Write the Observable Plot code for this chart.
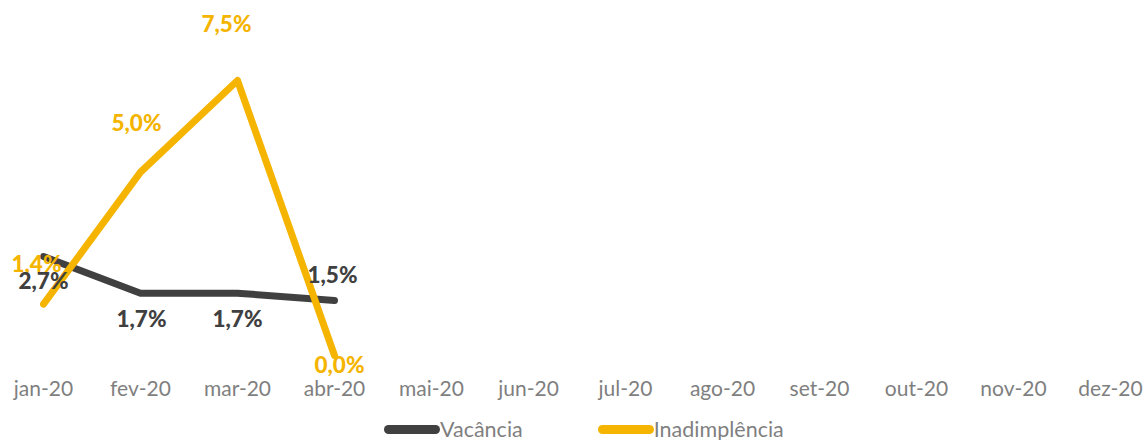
<!DOCTYPE html>
<html>
<head>
<meta charset="utf-8">
<script src="https://cdn.jsdelivr.net/npm/d3@7"></script>
<script src="https://cdn.jsdelivr.net/npm/@observablehq/plot@0.6"></script>
<style>
  html, body { margin: 0; padding: 0; background: #fff; }
  body { width: 1147px; height: 440px; overflow: hidden; font-family: Lato, "Noto Sans", sans-serif; }
  #legend { display: flex; justify-content: flex-start; align-items: center; margin-top: 5px; padding-left: 384px; height: 24px; font-size: 21.5px; color: #7f7f7f; }
  .item { display: flex; align-items: center; }
  .sw { width: 56px; height: 9px; border-radius: 5px; }
</style>
</head>
<body>
<div id="chart"></div>
<div id="legend"></div>
<script>
const months = ["jan-20","fev-20","mar-20","abr-20","mai-20","jun-20","jul-20","ago-20","set-20","out-20","nov-20","dez-20"];
const vacancia = [2.7, 1.7, 1.7, 1.5];
const inadimplencia = [1.4, 5.0, 7.5, 0.0];
const seriesNames = ["Vacância", "Inadimplência"];
const colors = ["#404040", "#F4B400"];
// label offsets (dx, dy) in px, Excel-like label placement
const vacOffsets = [[0, 25], [1, 27], [0, 27], [-2, -25]];
const inaOffsets = [[-7, -39], [-4, -48], [-11, -56], [5, 10]];

const vacRows = vacancia.map((v, i) => ({month: months[i], value: v, series: seriesNames[0]}));
const inaRows = inadimplencia.map((v, i) => ({month: months[i], value: v, series: seriesNames[1]}));
const fmt = v => v.toFixed(1).replace(".", ",") + "%";

const labelMarks = (rows, offsets, color) => rows.map((r, i) =>
  Plot.text([r], {x: "month", y: "value", text: d => fmt(d.value), dx: offsets[i][0], dy: offsets[i][1],
    fill: color, fontWeight: "900", fontSize: 22.5}));

const chart = Plot.plot({
  width: 1147,
  height: 412,
  marginLeft: 41,
  marginRight: 36,
  marginTop: 80,
  marginBottom: 57,
  style: {fontFamily: "Lato, 'Noto Sans', sans-serif", background: "#fff"},
  x: {type: "point", domain: months, padding: 0, label: null},
  y: {domain: [0, 7.5], axis: null},
  marks: [
    Plot.axisX({tickSize: 0, tickPadding: 26, fontSize: 21, color: "#7f7f7f", label: null}),
    Plot.line(vacRows, {x: "month", y: "value", stroke: colors[0], strokeWidth: 7, strokeLinecap: "round", strokeLinejoin: "round"}),
    Plot.line(inaRows, {x: "month", y: "value", stroke: colors[1], strokeWidth: 7, strokeLinecap: "round", strokeLinejoin: "round"}),
    ...labelMarks(inaRows, inaOffsets, colors[1]),
    ...labelMarks(vacRows, vacOffsets, colors[0])
  ]
});
document.getElementById("chart").appendChild(chart);

const legend = document.getElementById("legend");
seriesNames.forEach((name, i) => {
  const item = document.createElement("div");
  item.className = "item";
  if (i > 0) item.style.marginLeft = "75px";
  const sw = document.createElement("div");
  sw.className = "sw";
  sw.style.background = colors[i];
  const lab = document.createElement("span");
  lab.textContent = name;
  item.appendChild(sw);
  item.appendChild(lab);
  legend.appendChild(item);
});
</script>
</body>
</html>
